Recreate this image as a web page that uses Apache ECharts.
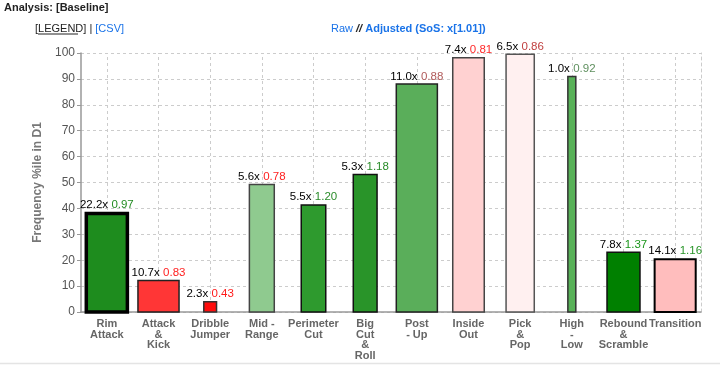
<!DOCTYPE html>
<html>
<head>
<meta charset="utf-8">
<script src="https://cdn.jsdelivr.net/npm/echarts@6/dist/echarts.min.js"></script>
<style>
html,body{margin:0;padding:0;background:#fff;}
#c{width:720px;height:365px;}
</style>
</head>
<body>
<div id="c"></div>
<script>
const categories = ["Rim\nAttack","Attack\n&\nKick","Dribble\nJumper","Mid -\nRange","Perimeter\nCut","Big\nCut\n&\nRoll","Post\n- Up","Inside\nOut","Pick\n&\nPop","High\n-\nLow","Rebound\n&\nScramble","Transition"];
const percentile = [38, 12.2, 4, 49.2, 41.3, 53.1, 88, 98.2, 99.5, 90.9, 23.1, 20.4];
const rawMult = [22.2, 10.7, 2.3, 5.6, 5.5, 5.3, 11.0, 7.4, 6.5, 1.0, 7.8, 14.1];
const adjusted = ["0.97","0.83","0.43","0.78","1.20","1.18","0.88","0.81","0.86","0.92","1.37","1.16"];
const yTicks = [0,10,20,30,40,50,60,70,80,90,100];

const barColors = ["#1e8c1e","#ff3636","#ff0d0d","#8fca8f","#2e9a2e","#299429","#5aae5a","#ffd1d1","#fff0f0","#58b158","#008000","#ffbdbd"];
const borderColors = ["#000","#222","#333","#444","#111","#111","#222","#444","#555","#333","#111","#000"];
const borderWidths = [3.5,1.5,1.5,1.5,1.5,1.5,1.5,1.5,1.5,1.5,1.5,2];
const adjColors = ["#228b22","#ff2020","#ff1a1a","#ff2020","#2a8c2a","#2a8c2a","#b05a5a","#ff2a2a","#c04040","#5e8f5e","#1a961a","#2a962a"];

const FONT = "'Liberation Sans', Helvetica, Arial, sans-serif";
const chart = echarts.init(document.getElementById('c'));

const data = categories.map((c,i)=>[i, percentile[i], rawMult[i]]);

chart.setOption({
  animation:false,
  textStyle:{fontFamily:FONT},
  grid:{left:81,right:19,top:53,bottom:53},
  graphic:[
    {type:'text',left:4,top:2,style:{text:'Analysis: [Baseline]',font:'bold 11px '+FONT,fill:'#222'}},
    {type:'text',left:35,top:23,style:{text:'[{u|LEGEND}] | {b|[CSV]}',font:'11px '+FONT,fill:'#222',
      rich:{u:{fontSize:11,fontFamily:FONT,fill:'#222'},b:{fontSize:11,fontFamily:FONT,fill:'#1a73e8'}}}},
    {type:'line',shape:{x1:38,y1:34,x2:78,y2:34},style:{stroke:'#222',lineWidth:1}},
    {type:'text',left:331,top:23,style:{text:'{r|Raw} {s|//} {a|Adjusted (SoS: x[1.01])}',font:'11px '+FONT,
      rich:{r:{fontSize:11,fontFamily:FONT,fill:'#1a73e8'},
            s:{fontSize:11,fontFamily:FONT,fontWeight:'bold',fontStyle:'italic',fill:'#222'},
            a:{fontSize:11,fontFamily:FONT,fontWeight:'bold',fill:'#1a73e8'}}}},
    {type:'line',shape:{x1:0,y1:363.5,x2:720,y2:363.5},style:{stroke:'#e4e4e4',lineWidth:1.5}}
  ],
  xAxis:{
    type:'category',data:categories,
    axisLine:{lineStyle:{color:'#999',width:1.5}},
    axisTick:{alignWithLabel:true,length:4,lineStyle:{color:'#999'}},
    axisLabel:{interval:0,color:'#666',fontWeight:'bold',fontSize:11,lineHeight:10.5,margin:7,fontFamily:FONT},
    splitLine:{show:false}
  },
  yAxis:[{
    type:'value',min:0,max:100,interval:10,
    name:'Frequency %ile in D1',nameLocation:'middle',nameGap:37,nameRotate:90,
    nameTextStyle:{color:'#777',fontWeight:'bold',fontSize:12,fontFamily:FONT},
    axisLine:{show:true,lineStyle:{color:'#999',width:1.5}},
    axisTick:{show:true,length:4,lineStyle:{color:'#999'}},
    axisLabel:{color:'#555',fontSize:12,margin:6,fontFamily:FONT},
    splitLine:{lineStyle:{color:'#ccc',type:[3,3]}}
  },{
    type:'value',min:0,max:100,interval:10,position:'right',
    axisLine:{show:true,lineStyle:{color:'#ccc',type:[3,3],width:1}},
    axisTick:{show:false},axisLabel:{show:false},splitLine:{show:false}
  }],
  series:[{
    type:'custom',
    z:3,
    data:data,
    encode:{x:0,y:1},
    renderItem:function(params,api){
      const i = api.value(0);
      const v = api.value(1);
      const raw = api.value(2);
      const top = api.coord([i, v]);
      const base = api.coord([i, 0]);
      const band = api.size([1,0])[0];
      const w = Math.min(0.795*band, band*(0.083 + 0.0712*raw));
      const cx = top[0];
      return {
        type:'group',
        children:[
          {type:'rect',shape:{x:cx-w/2,y:top[1],width:w,height:base[1]-top[1]},
            style:{fill:barColors[i],stroke:borderColors[i],lineWidth:borderWidths[i]}},
          {type:'text',style:{
            text:'{a|'+rawMult[i].toFixed(1)+'x} {b|'+adjusted[i]+'}',
            x:cx,y:top[1]-borderWidths[i]/2-0.5,align:'center',verticalAlign:'bottom',
            rich:{a:{fill:'#000',fontSize:11.5,fontFamily:FONT,lineHeight:13},
                  b:{fill:adjColors[i],fontSize:11.5,fontFamily:FONT,lineHeight:13}}
          }}
        ]
      };
    },
    markLine:{
      silent:true,symbol:'none',z:1,label:{show:false},
      lineStyle:{color:'#ccc',type:[3,3],width:1},
      data:categories.map(c=>({xAxis:c}))
    }
  }]
});
</script>
</body>
</html>
